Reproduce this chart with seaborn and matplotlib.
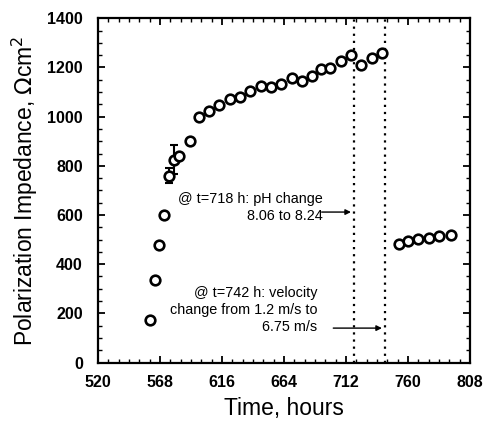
import matplotlib
import matplotlib.pyplot as plt
import numpy as np
import pandas as pd
import seaborn as sns
from matplotlib.ticker import FixedLocator, MultipleLocator

matplotlib.use("Agg")

# values
time_hours = [560, 564, 567, 571, 575, 579, 583, 591, 598, 606, 614, 622, 630, 638,
              646, 654, 662, 670, 678, 686, 693, 700, 708, 716, 724, 732, 740,
              753, 760, 768, 776, 784, 793]
impedance = [175, 335, 478, 600, 760, 825, 840, 900, 1000, 1022, 1048, 1072, 1080, 1106,
             1126, 1120, 1134, 1156, 1146, 1166, 1193, 1198, 1228, 1252, 1212, 1238, 1258,
             484, 494, 503, 507, 514, 520]
error = [0, 0, 0, 0, 30, 60, 0, 0, 0, 0, 0, 0, 0, 0,
         0, 0, 0, 0, 0, 0, 0, 0, 0, 0, 0, 0, 0,
         0, 0, 0, 0, 0, 0]
x_ticks = [520, 568, 616, 664, 712, 760, 808]
event_times = [718, 742]
note_ph = "@ t=718 h: pH change\n8.06 to 8.24"
note_vel = "@ t=742 h: velocity\nchange from 1.2 m/s to\n6.75 m/s"

df = pd.DataFrame({"time": time_hours, "rp": impedance, "err": error})

sns.set_theme(style="ticks")
plt.rcParams["font.family"] = ["Liberation Sans", "DejaVu Sans"]
plt.rcParams.update({"text.color": "black", "axes.labelcolor": "black",
                     "xtick.color": "black", "ytick.color": "black"})

fig = plt.figure(figsize=(4.88, 4.26), dpi=100)
ax = fig.add_axes([0.201, 0.149, 0.762, 0.808])

errs = df[df["err"] > 0]
ax.errorbar(errs["time"], errs["rp"], yerr=errs["err"], fmt="none", ecolor="black",
            elinewidth=1.5, capsize=3, capthick=1.5, zorder=2)
sns.scatterplot(data=df, x="time", y="rp", ax=ax, marker="o", s=48,
                facecolor="white", edgecolor="black", linewidth=1.9, zorder=3)

for t in event_times:
    ax.axvline(t, color="black", linestyle=(0, (1, 2.2)), linewidth=1.6, zorder=1)

ax.text(694, 631, note_ph, ha="right", va="center", multialignment="right",
        fontsize=10.4, linespacing=1.3)
ax.annotate("", xy=(718, 612), xytext=(691, 612),
            arrowprops=dict(arrowstyle="-|>", color="black", lw=1.0, mutation_scale=8))
ax.text(690, 214, note_vel, ha="right", va="center", multialignment="right",
        fontsize=10.4, linespacing=1.25)
ax.annotate("", xy=(742, 140), xytext=(700, 140),
            arrowprops=dict(arrowstyle="-|>", color="black", lw=1.0, mutation_scale=8))

ax.set_xlim(520, 808)
ax.set_ylim(0, 1400)
ax.xaxis.set_major_locator(FixedLocator(x_ticks))
ax.xaxis.set_minor_locator(MultipleLocator(8))
ax.yaxis.set_major_locator(MultipleLocator(200))
ax.yaxis.set_minor_locator(MultipleLocator(50))
ax.tick_params(which="both", direction="in", top=True, right=True, color="black",
               labelcolor="black")
ax.tick_params(which="major", length=5, width=1.3, labelsize=11.5)
ax.tick_params(axis="y", which="major", pad=11)
ax.tick_params(axis="x", which="major", pad=9)
ax.tick_params(which="minor", length=3, width=1.0)
for lab in ax.get_xticklabels() + ax.get_yticklabels():
    lab.set_fontweight("bold")
for sp in ax.spines.values():
    sp.set_linewidth(1.6)
    sp.set_color("black")

ax.set_xlabel("Time, hours", fontsize=16.5, labelpad=5, color="black")
ax.set_ylabel("Polarization Impedance, $\\Omega$cm$^2$", fontsize=16.5, labelpad=5,
              color="black")

fig.savefig("out.png", dpi=100)
